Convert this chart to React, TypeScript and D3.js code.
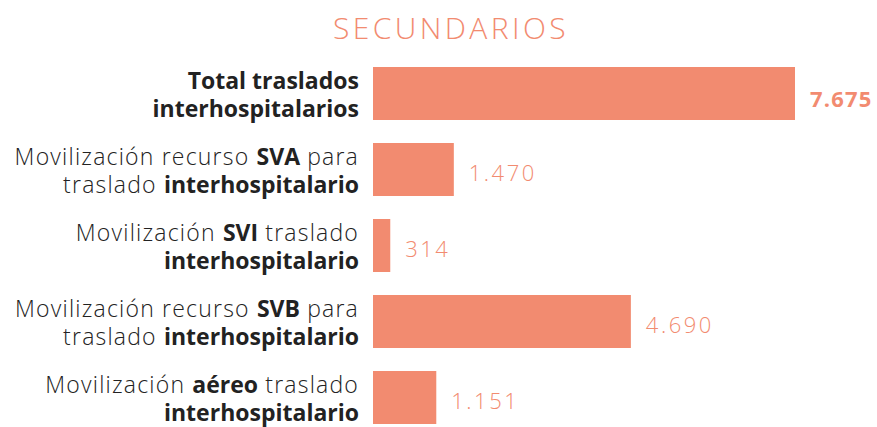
import React from "react";
import * as d3 from "d3";

const title = "SECUNDARIOS";
const categories = ["total", "sva", "svi", "svb", "aereo"];
const values = [7675, 1470, 314, 4690, 1151];
const valueLabels = ["7.675", "1.470", "314", "4.690", "1.151"];
// each label: lines of [text, bold] segments
const labelLines: [string, boolean][][][] = [
  [[["Total traslados", true]], [["interhospitalarios", true]]],
  [[["Movilización recurso ", false], ["SVA", true], [" para", false]], [["traslado ", false], ["interhospitalario", true]]],
  [[["Movilización ", false], ["SVI", true], [" traslado", false]], [["interhospitalario", true]]],
  [[["Movilización recurso ", false], ["SVB", true], [" para", false]], [["traslado ", false], ["interhospitalario", true]]],
  [[["Movilización ", false], ["aéreo", true], [" traslado", false]], [["interhospitalario", true]]],
];

const W = 877;
const H = 427;
const COLOR = "#F28B70";
const FONT = "'Open Sans', Lato, sans-serif";

export default function App() {
  const x = d3.scaleLinear().domain([0, d3.max(values)!]).range([373, 795]);
  const y = d3.scaleBand().domain(categories).range([67, 424]).paddingInner(23 / 76).paddingOuter(0);
  const bw = y.bandwidth();
  return (
    <svg width={W} height={H} style={{ position: "absolute", left: 0, top: 0 }} fontFamily={FONT}>
      <text x={451} y={39} textAnchor="middle" fill={COLOR} fontSize={30} fontWeight={300} letterSpacing={3.4}>
        {title}
      </text>
      {categories.map((c, i) => {
        const y0 = y(c)!;
        return (
          <g key={c}>
            <rect x={x(0)} y={y0} width={x(values[i]) - x(0)} height={bw} fill={COLOR} />
            {labelLines[i].map((line, li) => (
              <text key={li} x={359} y={y0 + 22 + li * 28} textAnchor="end" fill="#222" fontSize={23}>
                {line.map(([t, b], si) => (
                  <tspan key={si} fontWeight={b ? 700 : 300} letterSpacing={b ? 0 : 1.2}>{t}</tspan>
                ))}
              </text>
            ))}
            <text
              x={x(values[i]) + 15}
              y={y0 + (i === 0 ? 39.5 : 37.5)}
              fill={COLOR}
              fontSize={22}
              fontWeight={i === 0 ? 700 : 300}
              letterSpacing={i === 0 ? 1.2 : 2.5}
            >
              {valueLabels[i]}
            </text>
          </g>
        );
      })}
    </svg>
  );
}
